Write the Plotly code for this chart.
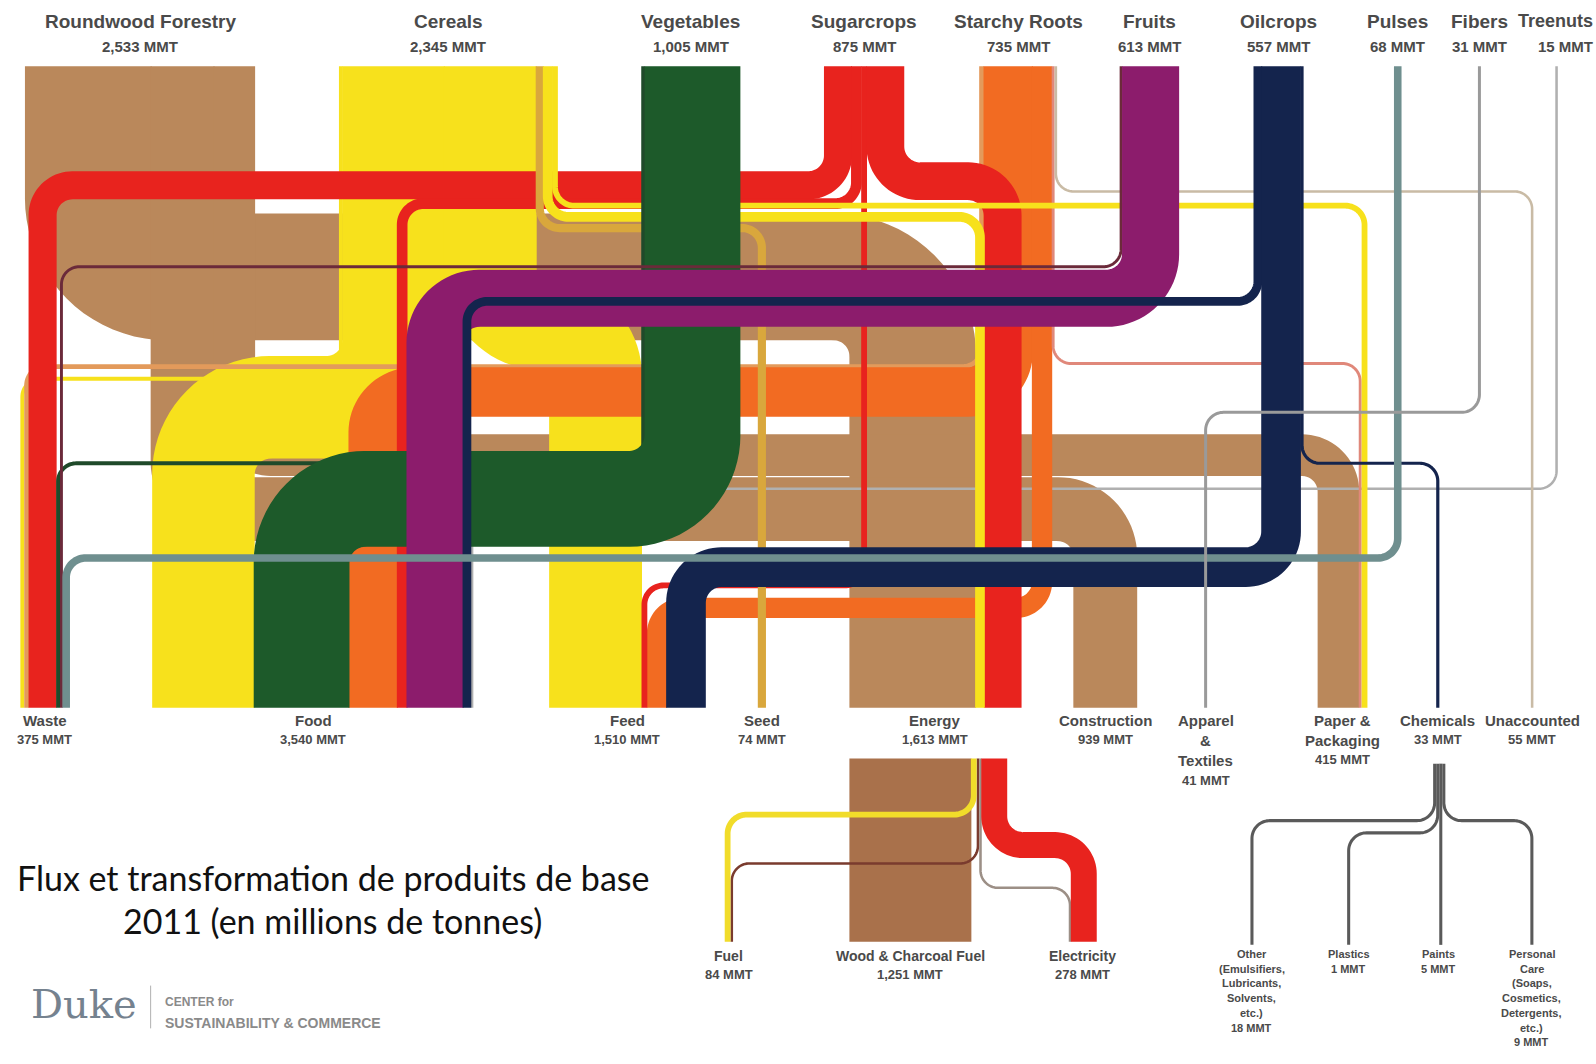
import math
import plotly.graph_objects as go

# ---------------- DATA ----------------
sources = ["Roundwood Forestry", "Cereals", "Vegetables", "Sugarcrops", "Starchy Roots",
           "Fruits", "Oilcrops", "Pulses", "Fibers", "Treenuts"]
source_totals = [2533, 2345, 1005, 875, 735, 613, 557, 68, 31, 15]

targets = ["Waste", "Food", "Feed", "Seed", "Energy", "Construction",
           "Apparel<br>&amp;<br>Textiles", "Paper &amp;<br>Packaging", "Chemicals", "Unaccounted"]
target_keys = ["Waste", "Food", "Feed", "Seed", "Energy", "Construction",
               "Apparel", "Paper", "Chemicals", "Unaccounted"]
target_totals = [375, 3540, 1510, 74, 1613, 939, 41, 415, 33, 55]

flow_source = ["Roundwood Forestry", "Roundwood Forestry", "Roundwood Forestry",
               "Cereals", "Cereals", "Cereals", "Cereals", "Cereals", "Cereals",
               "Sugarcrops", "Sugarcrops", "Sugarcrops", "Sugarcrops",
               "Starchy Roots", "Starchy Roots", "Starchy Roots", "Starchy Roots", "Starchy Roots",
               "Vegetables", "Vegetables",
               "Fruits", "Fruits",
               "Oilcrops", "Oilcrops", "Oilcrops",
               "Pulses", "Fibers", "Treenuts"]
flow_target = ["Energy", "Construction", "Paper",
               "Waste", "Food", "Feed", "Seed", "Energy", "Paper",
               "Waste", "Food", "Feed", "Energy",
               "Waste", "Food", "Feed", "Paper", "Unaccounted",
               "Waste", "Food",
               "Waste", "Food",
               "Food", "Feed", "Chemicals",
               "Waste", "Apparel", "Food"]
flow_value = [1300, 650, 420,
              40, 1050, 950, 74, 90, 60,
              280, 100, 60, 380,
              50, 500, 200, 30, 20,
              40, 980,
              30, 580,
              80, 400, 33,
              68, 31, 15]

energy_uses = ["Fuel", "Wood &amp; Charcoal Fuel", "Electricity"]
energy_use_totals = [84, 1251, 278]
energy_flow_target = ["Wood &amp; Charcoal Fuel", "Fuel", "Fuel", "Electricity", "Electricity"]
energy_flow_value = [1251, 60, 24, 20, 258]

chem_uses = [["Other", "(Emulsifiers,", "Lubricants,", "Solvents,", "etc.)"], ["Plastics"], ["Paints"],
             ["Personal", "Care", "(Soaps,", "Cosmetics,", "Detergents,", "etc.)"]]
chem_use_totals = [18, 1, 5, 9]

# ---------------- LAYOUT / STYLE ----------------
W, H = 1568.0, 1045.0          # drawing coordinate space
S = 1596.0 / 1568.0            # data unit -> screen px
K = 0.095                      # px per million tonnes
MINW = 2.5
TOP, BOT = 65, 695

SRC_X0 = {"Roundwood Forestry": 25, "Cereals": 333, "Vegetables": 630, "Sugarcrops": 810,
          "Starchy Roots": 962, "Fruits": 1100, "Oilcrops": 1232, "Pulses": 1370,
          "Fibers": 1452, "Treenuts": 1528}
TGT_X0 = {"Waste": 20, "Food": 150, "Feed": 540, "Seed": 745, "Energy": 835, "Construction": 1055,
          "Apparel": 1183, "Paper": 1295, "Chemicals": 1411, "Unaccounted": 1504}
TGT_STACK = {
    "Waste": ["Cereals", "Starchy Roots", "Sugarcrops", "Vegetables", "Fruits", "Pulses"],
    "Food": ["Cereals", "Vegetables", "Starchy Roots", "Sugarcrops", "Fruits", "Oilcrops", "Treenuts"],
    "Feed": ["Cereals", "Sugarcrops", "Starchy Roots", "Oilcrops"],
    "Seed": ["Cereals"],
    "Energy": ["Roundwood Forestry", "Cereals", "Sugarcrops"],
    "Construction": ["Roundwood Forestry"],
    "Apparel": ["Fibers"],
    "Paper": ["Roundwood Forestry", "Starchy Roots", "Cereals"],
    "Chemicals": ["Oilcrops"],
    "Unaccounted": ["Starchy Roots"],
}
BROWN, YELLOW, GREEN, RED = "#BA885B", "#F7E11C", "#1D5A2A", "#E8231E"
ORANGE, PURPLE, NAVY = "#F26B22", "#8C1C6C", "#14244D"
# (lane y, colour, layer) for every flow, in the same order as the data
FLOW_STYLE = [
    (272, BROWN, 0), (500, BROWN, 0), (447, BROWN, 0),
    (372, YELLOW, 1), (400, YELLOW, 1), (318, YELLOW, 1), (224, "#D9A73C", 4), (213, YELLOW, 4), (202, YELLOW, 4),
    (182, RED, 3), (200, RED, 3), (575, RED, 3), (178, RED, 3),
    (360, "#E39A5B", 2), (385, ORANGE, 2), (597, ORANGE, 2), (357, "#E0887A", 2), (188, "#C9BBA5", 2),
    (455, "#1F4A2A", 5), (490, GREEN, 5),
    (262, "#6B2A3A", 6), (293, PURPLE, 6),
    (296, NAVY, 7), (557, NAVY, 7), (455, NAVY, 7),
    (548, "#6F8F8F", 8), (405, "#9A9A9A", 8), (480, "#B0B0B0", 0),
]

E_TOP, E_BOT = 745, 925
E_X0 = 835
E_TGT_X0 = {"Fuel": 712, "Wood &amp; Charcoal Fuel": 835, "Electricity": 1050}
E_STYLE = [(None, "#A9714B"), (800, "#F1DC2A"), (848, "#7A3B2E"), (872, "#9C8F86"), (830, RED)]

C_TOP, C_BOT = 750, 928
C_X0 = 1408
C_TGT_X = [1230, 1325, 1413, 1505]
C_LANES = [806, 818, None, 806]
C_COLOR = "#5a5a5a"


def wpx(v, minw=MINW):
    return max(v * K, minw)


def rounded_path(pts, r, n=20):
    clean = [pts[0]]
    for p in pts[1:]:
        if abs(p[0] - clean[-1][0]) < 1e-6 and abs(p[1] - clean[-1][1]) < 1e-6:
            continue
        clean.append(p)
    P = [clean[0]]
    for i in range(1, len(clean) - 1):
        a, b, c = P[-1], clean[i], clean[i + 1]
        if (abs(a[0] - b[0]) < 1e-6 and abs(b[0] - c[0]) < 1e-6) or \
           (abs(a[1] - b[1]) < 1e-6 and abs(b[1] - c[1]) < 1e-6):
            continue
        P.append(b)
    P.append(clean[-1])
    m = len(P)
    xs, ys = [P[0][0]], [P[0][1]]
    for i in range(1, m - 1):
        ax, ay = P[i - 1]
        bx, by = P[i]
        cx, cy = P[i + 1]
        d1 = math.hypot(bx - ax, by - ay)
        d2 = math.hypot(cx - bx, cy - by)
        l1 = d1 if i - 1 == 0 else d1 / 2
        l2 = d2 if i + 1 == m - 1 else d2 / 2
        rr = min(r, l1, l2)
        u1 = ((bx - ax) / d1, (by - ay) / d1)
        u2 = ((cx - bx) / d2, (cy - by) / d2)
        ox = bx - u1[0] * rr + u2[0] * rr
        oy = by - u1[1] * rr + u2[1] * rr
        for j in range(n + 1):
            t = (math.pi / 2) * j / n
            xs.append(ox - u2[0] * rr * math.cos(t) + u1[0] * rr * math.sin(t))
            ys.append(oy - u2[1] * rr * math.cos(t) + u1[1] * rr * math.sin(t))
    xs.append(P[-1][0])
    ys.append(P[-1][1])
    return xs, ys


def route(xs_, xt_, y0, y1, lane, w):
    if lane is None or abs(xs_ - xt_) < 0.5:
        pts = [(xs_, y0), (xs_, y1)]
    else:
        pts = [(xs_, y0), (xs_, lane), (xt_, lane), (xt_, y1)]
    return rounded_path(pts, w / 2 + 16)


def add_band(fig, x, y, col, w):
    extra = 1.0 if w > 6 else 0.0   # hide antialiasing seams between stacked bands
    fig.add_trace(go.Scatter(x=x, y=y, mode="lines",
                             line=dict(color=col, width=w * S + extra, simplify=False),
                             hoverinfo="skip", showlegend=False))


fig = go.Figure()
traces = []

# --- main flows: positions from stacking within source and target bands
src_cursor = dict(SRC_X0)
src_span = {}
flow_src_c = []
for i in range(len(flow_value)):
    s = flow_source[i]
    w = wpx(flow_value[i])
    x0 = src_cursor[s]
    flow_src_c.append(x0 + w / 2)
    src_cursor[s] = x0 + w
    src_span.setdefault(s, [x0, x0 + w])
    src_span[s][1] = x0 + w

flow_tgt_c = [None] * len(flow_value)
tgt_span = {}
for t, order in TGT_STACK.items():
    cur = TGT_X0[t]
    start = cur
    for s in order:
        for i in range(len(flow_value)):
            if flow_source[i] == s and flow_target[i] == t:
                w = wpx(flow_value[i])
                flow_tgt_c[i] = cur + w / 2
                cur += w
    tgt_span[t] = [start, cur]

for i in range(len(flow_value)):
    lane, col, layer = FLOW_STYLE[i]
    w = wpx(flow_value[i])
    x, y = route(flow_src_c[i], flow_tgt_c[i], TOP, BOT, lane, w)
    traces.append((layer, i, x, y, col, w))

traces.sort(key=lambda t: (t[0], t[1]))
for layer, i, x, y, col, w in traces:
    add_band(fig, x, y, col, w)

# --- energy breakdown
e_cur = E_X0
e_src_c = []
for v in energy_flow_value:
    w = wpx(v)
    e_src_c.append(e_cur + w / 2)
    e_cur += w
e_tgt_cur = dict(E_TGT_X0)
e_tgt_span = {}
e_tgt_c = []
for i, v in enumerate(energy_flow_value):
    t = energy_flow_target[i]
    w = wpx(v)
    x0 = e_tgt_cur[t]
    e_tgt_c.append(x0 + w / 2)
    e_tgt_cur[t] = x0 + w
    e_tgt_span.setdefault(t, [x0, x0 + w])
    e_tgt_span[t][1] = x0 + w
e_draw = [0, 2, 3, 1, 4]
for i in e_draw:
    lane, col = E_STYLE[i]
    w = wpx(energy_flow_value[i])
    x, y = route(e_src_c[i], e_tgt_c[i], E_TOP, E_BOT, lane, w)
    add_band(fig, x, y, col, w)

# --- chemicals breakdown
c_cur = C_X0
for i, v in enumerate(chem_use_totals):
    w = wpx(v, 3.0)
    xs_ = c_cur + w / 2
    c_cur += w
    xt_ = C_TGT_X[i] if C_LANES[i] is not None else xs_
    x, y = route(xs_, xt_, C_TOP, C_BOT, C_LANES[i], w)
    add_band(fig, x, y, C_COLOR, w)

# ---------------- TEXT ----------------
ann = []
LBL = "#4a4a4a"
FONT = "Liberation Sans, Arial, sans-serif"


def label(x, y, text, size, bold=True, color=LBL, family=FONT, xanchor="center"):
    ann.append(dict(x=x, y=y, xref="x", yref="y", text=("<b>%s</b>" % text) if bold else text,
                    showarrow=False, xanchor=xanchor, yanchor="top",
                    font=dict(size=size, color=color, family=family), align="center"))


for s, tot in zip(sources, source_totals):
    cx = (src_span[s][0] + src_span[s][1]) / 2
    anchor, size = "center", 19
    if cx > 1520:
        cx, anchor, size = 1567, "right", 18
    label(cx, 9, s, size, xanchor=anchor)
    label(cx, 35, "{:,} MMT".format(tot), 15, xanchor=anchor)

for key, name, tot in zip(target_keys, targets, target_totals):
    cx = (tgt_span[key][0] + tgt_span[key][1]) / 2
    lines = name.split("<br>")
    for j, ln in enumerate(lines):
        label(cx, 697 + 20 * j, ln, 15)
    label(cx, 697 + 20 * len(lines), "{:,} MMT".format(tot), 13)

for name, tot in zip(energy_uses, energy_use_totals):
    cx = (e_tgt_span[name][0] + e_tgt_span[name][1]) / 2
    label(cx, 929, name, 14)
    label(cx, 948, "{:,} MMT".format(tot), 13)

for i, (lines, tot) in enumerate(zip(chem_uses, chem_use_totals)):
    for j, ln in enumerate(lines + ["{:,} MMT".format(tot)]):
        label(C_TGT_X[i], 929 + 14.5 * j, ln, 11)

label(327, 840, "Flux et transformation de produits de base", 34, bold=False, color="#111111",
      family="Lato, Open Sans, sans-serif")
label(327, 882, "2011 (en millions de tonnes)", 34, bold=False, color="#111111",
      family="Lato, Open Sans, sans-serif")

# Duke logo
label(28, 962, "Duke", 40, bold=False, color="#75828f", family="DejaVu Serif, serif", xanchor="left")
label(160, 975, "CENTER for", 12, bold=True, color="#8a8a8a", xanchor="left")
label(160, 995, "SUSTAINABILITY &amp; COMMERCE", 14, bold=True, color="#8a8a8a", xanchor="left")

fig.update_layout(
    width=1596, height=1064,
    margin=dict(l=0, r=0, t=0, b=0),
    paper_bgcolor="white", plot_bgcolor="white",
    xaxis=dict(range=[0, W], visible=False, fixedrange=True),
    yaxis=dict(range=[H, 0], visible=False, fixedrange=True),
    annotations=ann,
    shapes=[dict(type="line", xref="x", yref="y", x0=148, x1=148, y0=968, y1=1010,
                 line=dict(color="#b0b0b0", width=1))],
)

fig.write_html("out.html", config={"displayModeBar": False},
               post_script="document.body.style.margin='0';document.body.style.overflow='hidden';")
